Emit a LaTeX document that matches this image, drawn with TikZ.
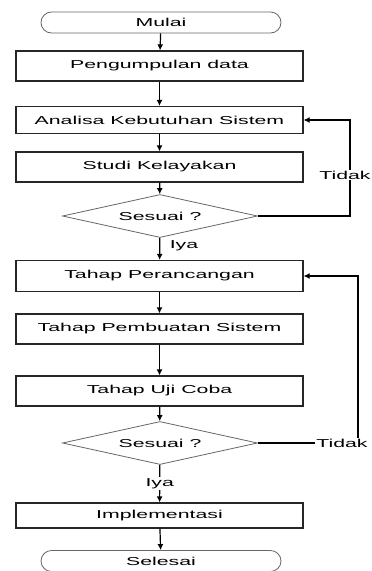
\documentclass[tikz,border=0pt]{standalone}
\usepackage{fontspec}
\setmainfont[FakeStretch=1.85]{Liberation Sans}
\usetikzlibrary{shapes.geometric,arrows.meta}
\begin{document}
\begin{tikzpicture}[x=1pt,y=-1pt,
   font=\fontsize{11.5}{13}\selectfont,
   box/.style={draw=black!85,line width=1.2pt,minimum width=287pt,minimum height=30pt,inner sep=0pt},
   term/.style={draw=black!60,line width=0.8pt,rounded corners=10.5pt,minimum width=240pt,minimum height=21pt,inner sep=0pt},
   cek/.style={diamond,draw=black!60,line width=0.8pt,aspect=4.5,minimum width=195pt,minimum height=43pt,inner sep=0pt},
   lbl/.style={fill=white,inner sep=1pt},
   arr/.style={-{Latex[length=6pt,width=6pt]},line width=1.2pt}]
   \useasboundingbox (0,0) rectangle (372,571);

   \node[term] (a0) at (161,22.5) {Mulai};
   \node[box] (a1) at (159.5,66) {Pengumpulan data};
   \node[box,minimum height=27pt] (a2) at (159.5,120) {Analisa Kebutuhan Sistem};
   \node[box] (a3) at (159.5,167) {Studi Kelayakan};
   \node[cek] (d1) at (160,216) {Sesuai ?};
   \node[box,minimum height=31pt] (a4) at (159.5,276) {Tahap Perancangan};
   \node[box] (a5) at (159.5,329) {Tahap Pembuatan Sistem};
   \node[box] (a6) at (159.5,391) {Tahap Uji Coba};
   \node[cek] (d2) at (160,443) {Sesuai ?};
   \node[box,minimum height=25pt] (a7) at (159.5,515.5) {Implementasi};
   \node[term] (a8) at (161,561) {Selesai};

   \node (iya1) at (184,246) {Iya};
   \node[lbl] (tidak1) at (345,175) {Tidak};
   \node[lbl] (tidak2) at (342,443) {Tidak};
   \coordinate (k1) at (350,120);
   \coordinate (k2) at (358,276);

   \draw[arr] (a0) -- (a1);
   \draw[arr] (a1) -- (a2);
   \draw[arr] (a2) -- (a3);
   \draw[arr] (a3) -- (d1);
   \draw[arr] (d1) -- (a4);
   \draw[arr] (a4) -- (a5);
   \draw[arr] (a5) -- (a6);
   \draw[arr] (a6) -- (d2);
   \draw[arr] (d2) -- node[lbl] (iya2) {Iya} (a7);
   \draw[arr] (a7) -- (a8);

   \draw[line width=1.2pt] (d1.east) -| (tidak1.south -| k1);
   \draw[arr] (tidak1.north -| k1) -- (k1) -- (a2.east);
   \draw[line width=1.2pt] (d2.east) -- (tidak2.west);
   \draw[arr] (tidak2.north -| k2) -- (k2) -- (a4.east);
\end{tikzpicture}
\end{document}
